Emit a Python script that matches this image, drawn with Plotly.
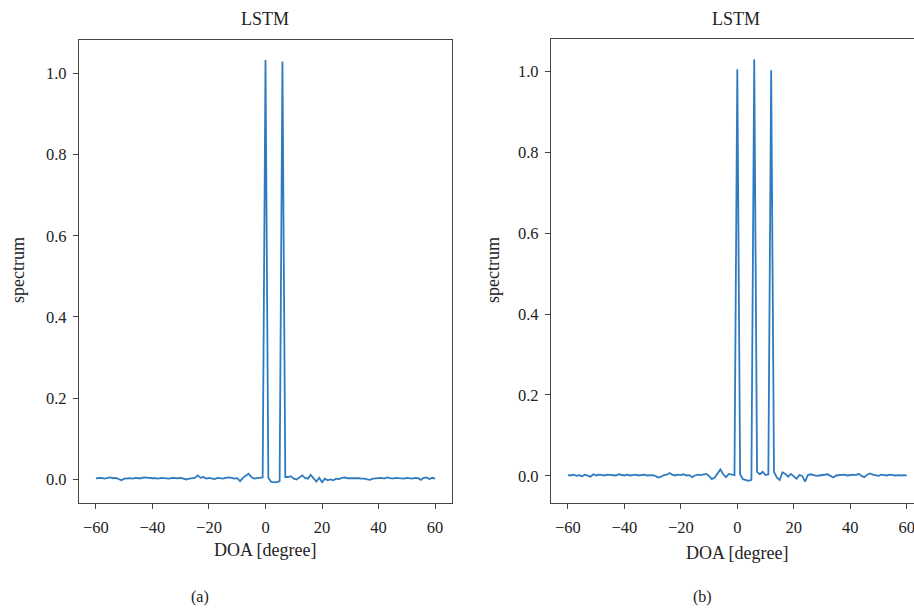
import plotly.graph_objects as go

doa = list(range(-60, 61))

spectrum_a = [
    0.003, 0.003, 0.004, 0.002, 0.004, 0.005, 0.003, 0.004, 0.001, -0.002,
    0.002, 0.003, 0.003, 0.002, 0.004, 0.003, 0.003, 0.005, 0.004, 0.003,
    0.003, 0.003, 0.002, 0.004, 0.003, 0.003, 0.002, 0.004, 0.003, 0.003,
    0.004, 0.002, 0.000, 0.002, 0.003, 0.004, 0.010, 0.004, 0.006, 0.002,
    0.004, 0.003, 0.001, 0.004, 0.003, 0.002, 0.004, 0.005, 0.004, 0.002,
    0.003, -0.004, 0.004, 0.009, 0.014, 0.006, 0.002, 0.003, 0.004, 0.005,
    1.033,
    0.004, -0.006, -0.007, -0.007, -0.004, 1.029, 0.006, 0.006, 0.008, 0.002,
    0.000, 0.006, 0.010, 0.004, 0.002, 0.011, 0.002, -0.005, 0.004, -0.007,
    0.002, -0.002, 0.000, -0.002, 0.002, 0.001, 0.004, 0.005, 0.003, 0.003,
    0.004, 0.003, 0.003, 0.002, 0.002, 0.000, -0.001, 0.002, 0.003, 0.003,
    0.004, 0.002, 0.005, 0.003, 0.002, 0.004, 0.003, 0.003, 0.002, 0.004,
    0.003, 0.002, 0.004, 0.003, -0.001, 0.004, 0.005, 0.001, 0.004, 0.002,
]

spectrum_b = [
    0.002, 0.001, 0.003, 0.000, 0.002, -0.001, 0.003, 0.000, -0.002, 0.004,
    0.001, 0.003, 0.002, 0.001, 0.003, 0.002, 0.002, 0.001, 0.004, 0.002,
    0.001, 0.003, 0.001, 0.002, 0.003, 0.001, 0.002, 0.003, 0.001, 0.002,
    0.002, 0.000, -0.004, -0.002, 0.002, 0.003, 0.007, 0.003, 0.001, 0.003,
    0.002, 0.004, 0.001, 0.002, -0.003, 0.001, 0.003, 0.002, 0.004, 0.005,
    0.000, -0.008, -0.004, 0.006, 0.016, 0.004, -0.003, 0.005, 0.003, 0.002,
    1.005,
    0.004, -0.008, -0.010, -0.012, -0.010, 1.030, 0.010, 0.004, 0.010, 0.002,
    0.004, 1.003, 0.010, -0.004, -0.010, 0.009, 0.005, -0.002, 0.005, -0.002,
    -0.007, 0.002, 0.000, -0.014, 0.002, 0.004, 0.002, 0.000, 0.001, 0.002,
    0.003, 0.004, 0.000, -0.004, 0.001, 0.002, 0.002, 0.003, 0.001, 0.002,
    0.003, 0.002, 0.005, 0.000, -0.003, 0.003, 0.006, 0.003, 0.002, 0.000,
    0.003, 0.002, 0.001, 0.003, 0.002, 0.001, 0.002, 0.001, 0.002, 0.001,
]

x_ticks = [-60, -40, -20, 0, 20, 40, 60]
y_ticks = [0.0, 0.2, 0.4, 0.6, 0.8, 1.0]

W, H = 914, 609
LINE = "#2f7bc0"
SPINE = "#444444"
FONT = "Liberation Serif"
TXT = "#222222"

fig = go.Figure()
fig.add_trace(go.Scatter(x=doa, y=spectrum_a, mode="lines",
                         line=dict(color=LINE, width=1.8), xaxis="x", yaxis="y",
                         showlegend=False))
fig.add_trace(go.Scatter(x=doa, y=spectrum_b, mode="lines",
                         line=dict(color=LINE, width=1.8), xaxis="x2", yaxis="y2",
                         showlegend=False))

def px_x(p):
    return p / W

def px_y(p):
    return 1 - p / H

axis_common = dict(showgrid=False, zeroline=False, showline=True,
                   linecolor=SPINE, linewidth=1.2, ticks="outside",
                   ticklen=5, tickwidth=1.2, tickcolor=SPINE,
                   tickfont=dict(family=FONT, size=16.5, color=TXT))

fig.update_layout(
    width=W, height=H,
    margin=dict(l=0, r=0, t=0, b=0),
    paper_bgcolor="white", plot_bgcolor="white",
    xaxis=dict(domain=[px_x(79), px_x(452)], range=[-66, 66],
               tickvals=x_ticks, mirror=True, anchor="y",
               ticklabelstandoff=4, **axis_common),
    yaxis=dict(domain=[px_y(503), px_y(40)], range=[-0.058, 1.082],
               tickvals=y_ticks, tickformat=".1f", mirror=True, anchor="x",
               ticklabelstandoff=3, **axis_common),
    xaxis2=dict(domain=[px_x(551), 1.0], range=[-66, 62.6],
                tickvals=x_ticks, mirror=True, anchor="y2",
                ticklabelstandoff=4, ticklabeloverflow="allow", **axis_common),
    yaxis2=dict(domain=[px_y(503), px_y(39)], range=[-0.067, 1.080],
                tickvals=y_ticks, tickformat=".1f", mirror=False, anchor="x2",
                ticklabelstandoff=3, **axis_common),
)

def note(text, x, y, size, angle=0):
    fig.add_annotation(text=text, x=px_x(x), y=px_y(y), xref="paper", yref="paper",
                       showarrow=False, textangle=angle, xanchor="center",
                       yanchor="middle",
                       font=dict(family=FONT, size=size, color=TXT))

note("LSTM", 265, 19, 18)
note("LSTM", 736, 19, 18)
note("spectrum", 18, 270, 18, -90)
note("spectrum", 493, 270, 18, -90)
note("DOA [degree]", 265, 550, 18)
note("DOA [degree]", 737, 553, 18)
note("(a)", 200, 597, 16)
note("(b)", 702, 597, 16)

fig.write_html(
    "out.html",
    config={"displayModeBar": False},
    post_script="document.body.style.margin='0';document.body.style.overflow='hidden';",
)
